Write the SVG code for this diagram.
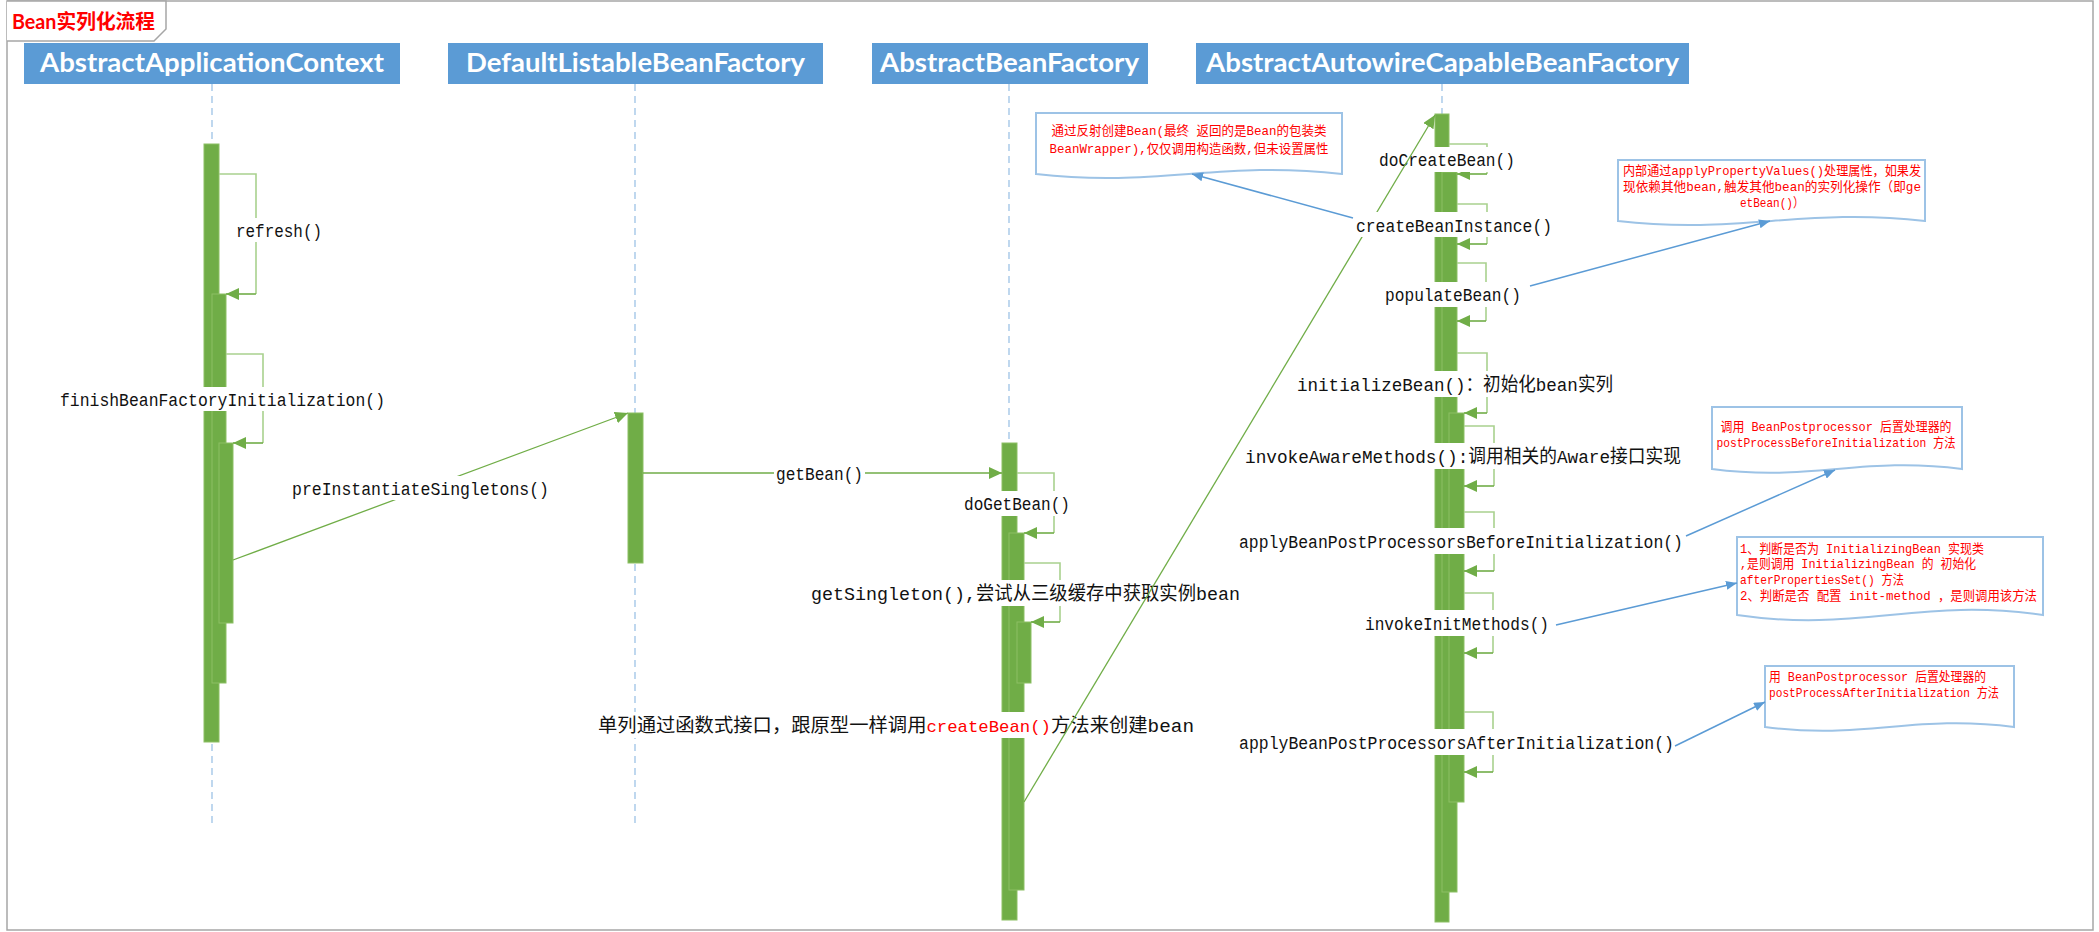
<svg xmlns="http://www.w3.org/2000/svg" width="2099" height="932" viewBox="0 0 2099 932">
<defs>
<style>
.hdr{fill:#5B9BD5}
.hdrt{font-family:Lato,"Liberation Sans",sans-serif;font-weight:bold;font-size:26px;fill:#fff}
.life{stroke:#9DC3E6;stroke-width:1.3;stroke-dasharray:7 5;fill:none}
.bar{fill:#70AD47;stroke:#8CBF64;stroke-width:1}
.self{fill:none;stroke:#A9D18E;stroke-width:1.6}
.ret{fill:none;stroke:#70AD47;stroke-width:1.6;marker-end:url(#ag)}
.msg{fill:none;stroke:#70AD47;stroke-width:1.3;marker-end:url(#ag)}
.lbl{font-family:"Liberation Mono","Noto Sans CJK SC",monospace;font-size:19px;fill:#111}
.red{fill:#FF0000}
.lbg{fill:#fff}
.note{fill:#fff;stroke:#9DC3E6;stroke-width:2}
.nt{font-family:"Liberation Mono","Noto Sans CJK SC",monospace;font-size:13px;fill:#FF0000}
.nc{fill:none;stroke:#5B9BD5;stroke-width:1.5;marker-end:url(#ab)}
</style>
<marker id="ag" viewBox="0 0 13 12" markerWidth="13" markerHeight="12" refX="13" refY="6" orient="auto" markerUnits="userSpaceOnUse"><path d="M0,0 L13,6 L0,12 z" fill="#70AD47"/></marker>
<marker id="ab" viewBox="0 0 11 9" markerWidth="11" markerHeight="9" refX="11" refY="4.5" orient="auto" markerUnits="userSpaceOnUse"><path d="M0,0 L11,4.5 L0,9 z" fill="#5B9BD5"/></marker>
</defs>
<rect x="0" y="0" width="2099" height="932" fill="#fff"/>
<g id="frame">
<rect x="7" y="1" width="2086" height="929" fill="none" stroke="#A6A6A6" stroke-width="1.5"/>
<path d="M7,1 H166 V29 L154,41 H7" fill="#fff" stroke="#A6A6A6" stroke-width="1.5"/>
<text x="12" y="29" textLength="143" lengthAdjust="spacingAndGlyphs" style="font-family:Lato,'Noto Sans CJK SC',sans-serif;font-weight:bold;font-size:20px;fill:#FF0000">Bean实列化流程</text>
</g>

<g id="node-AbstractApplicationContext">
<rect class="hdr" x="24" y="43" width="376" height="41"/>
<text class="hdrt" x="40" y="72" textLength="344" lengthAdjust="spacingAndGlyphs">AbstractApplicationContext</text>
<line class="life" x1="212" y1="84" x2="212" y2="826"/>
<rect class="bar" x="204" y="144" width="15" height="598"/>
<rect class="bar" x="212" y="294" width="14" height="389"/>
<rect class="bar" x="219" y="443" width="14" height="180"/>
</g>
<g id="node-DefaultListableBeanFactory">
<rect class="hdr" x="448" y="43" width="375" height="41"/>
<text class="hdrt" x="466" y="72" textLength="339" lengthAdjust="spacingAndGlyphs">DefaultListableBeanFactory</text>
<line class="life" x1="635" y1="84" x2="635" y2="826"/>
<rect class="bar" x="628" y="413" width="15" height="150"/>
</g>
<g id="node-AbstractBeanFactory">
<rect class="hdr" x="872" y="43" width="276" height="41"/>
<text class="hdrt" x="880" y="72" textLength="259" lengthAdjust="spacingAndGlyphs">AbstractBeanFactory</text>
<line class="life" x1="1009" y1="84" x2="1009" y2="920"/>
<rect class="bar" x="1002" y="443" width="15" height="477"/>
<rect class="bar" x="1009" y="533" width="15" height="357"/>
<rect class="bar" x="1017" y="622" width="14" height="61"/>
</g>
<g id="node-AbstractAutowireCapableBeanFactory">
<rect class="hdr" x="1196" y="43" width="493" height="41"/>
<text class="hdrt" x="1206" y="72" textLength="473" lengthAdjust="spacingAndGlyphs">AbstractAutowireCapableBeanFactory</text>
<line class="life" x1="1442" y1="84" x2="1442" y2="922"/>
<rect class="bar" x="1435" y="114" width="14" height="808"/>
<rect class="bar" x="1442" y="172" width="15" height="720"/>
<rect class="bar" x="1449" y="413" width="15" height="389"/>
</g>

<g id="note-createBeanInstance">
<path class="note" d="M1036,113 H1342 V174 C1220,160 1158,188 1036,174 Z"/>
<text class="nt" x="1189" y="135" text-anchor="middle" textLength="275" lengthAdjust="spacingAndGlyphs">通过反射创建Bean(最终 返回的是Bean的包装类</text>
<text class="nt" x="1189" y="153" text-anchor="middle" textLength="279" lengthAdjust="spacingAndGlyphs">BeanWrapper),仅仅调用构造函数,但未设置属性</text>
</g>
<g id="note-populateBean">
<path class="note" d="M1618,160 H1925 V221 C1803,207 1740,235 1618,221 Z"/>
<text class="nt" x="1772" y="175" text-anchor="middle" textLength="298" lengthAdjust="spacingAndGlyphs">内部通过applyPropertyValues()处理属性，如果发</text>
<text class="nt" x="1772" y="191" text-anchor="middle" textLength="298" lengthAdjust="spacingAndGlyphs">现依赖其他bean,触发其他bean的实列化操作（即ge</text>
<text class="nt" x="1772" y="207" text-anchor="middle" textLength="64" lengthAdjust="spacingAndGlyphs">etBean()）</text>
</g>
<g id="note-before">
<path class="note" d="M1712,407 H1962 V469 C1862,456 1812,482 1712,469 Z"/>
<text class="nt" x="1836" y="431" text-anchor="middle" textLength="231" lengthAdjust="spacingAndGlyphs">调用 BeanPostprocessor 后置处理器的</text>
<text class="nt" x="1836" y="447" text-anchor="middle" textLength="239" lengthAdjust="spacingAndGlyphs">postProcessBeforeInitialization 方法</text>
</g>
<g id="note-invokeInit">
<path class="note" d="M1737,537 H2043 V615 C1920,597 1860,633 1737,615 Z"/>
<text class="nt" x="1740" y="553" textLength="244" lengthAdjust="spacingAndGlyphs">1、判断是否为 InitializingBean 实现类</text>
<text class="nt" x="1740" y="568" textLength="236" lengthAdjust="spacingAndGlyphs">,是则调用 InitializingBean 的 初始化</text>
<text class="nt" x="1740" y="584" textLength="164" lengthAdjust="spacingAndGlyphs">afterPropertiesSet() 方法</text>
<text class="nt" x="1740" y="600" textLength="297" lengthAdjust="spacingAndGlyphs">2、判断是否 配置 init-method ，是则调用该方法</text>
</g>
<g id="note-after">
<path class="note" d="M1765,666 H2014 V727 C1914,714 1865,740 1765,727 Z"/>
<text class="nt" x="1769" y="681" textLength="217" lengthAdjust="spacingAndGlyphs">用 BeanPostprocessor 后置处理器的</text>
<text class="nt" x="1769" y="697" textLength="230" lengthAdjust="spacingAndGlyphs">postProcessAfterInitialization 方法</text>
</g>

<g id="connectors">
<g id="m-refresh">
<path class="self" d="M219,174 H256 V294"/>
<line class="ret" x1="256" y1="294" x2="226" y2="294"/>
<rect class="lbg" x="234" y="218" width="90" height="24"/>
<text class="lbl" x="236" y="237" textLength="86" lengthAdjust="spacingAndGlyphs">refresh()</text>
</g>
<g id="m-finish">
<path class="self" d="M226,354 H263 V443"/>
<line class="ret" x1="263" y1="443" x2="233" y2="443"/>
<rect class="lbg" x="58" y="387" width="329" height="24"/>
<text class="lbl" x="60" y="406" textLength="325" lengthAdjust="spacingAndGlyphs">finishBeanFactoryInitialization()</text>
</g>
<g id="m-preInstantiate">
<line class="msg" x1="233" y1="560" x2="628" y2="413"/>
<rect class="lbg" x="290" y="476" width="261" height="24"/>
<text class="lbl" x="292" y="495" textLength="257" lengthAdjust="spacingAndGlyphs">preInstantiateSingletons()</text>
</g>
<g id="m-getBean">
<line class="msg" x1="643" y1="473" x2="1002" y2="473"/>
<rect class="lbg" x="774" y="461" width="91" height="24"/>
<text class="lbl" x="776" y="480" textLength="87" lengthAdjust="spacingAndGlyphs">getBean()</text>
</g>
<g id="m-doGetBean">
<path class="self" d="M1017,473 H1054 V533"/>
<line class="ret" x1="1054" y1="533" x2="1024" y2="533"/>
<rect class="lbg" x="962" y="491" width="110" height="25"/>
<text class="lbl" x="964" y="510" textLength="106" lengthAdjust="spacingAndGlyphs">doGetBean()</text>
</g>
<g id="m-getSingleton">
<path class="self" d="M1024,563 H1060 V622"/>
<line class="ret" x1="1060" y1="622" x2="1031" y2="622"/>
<rect class="lbg" x="809" y="580" width="433" height="26"/>
<text class="lbl" x="811" y="600" textLength="429" lengthAdjust="spacingAndGlyphs">getSingleton(),尝试从三级缓存中获取实例bean</text>
</g>
<g id="m-doCreateBean">
<path class="self" d="M1449,144 H1487 V174"/>
<line class="ret" x1="1487" y1="174" x2="1457" y2="174"/>
<rect class="lbg" x="1377" y="147" width="140" height="25"/>
<text class="lbl" x="1379" y="166" textLength="136" lengthAdjust="spacingAndGlyphs">doCreateBean()</text>
</g>
<g id="m-createBean">
<rect class="lbg" x="596" y="712" width="600" height="26"/>
<text class="lbl" x="598" y="732" textLength="596" lengthAdjust="spacingAndGlyphs">单列通过函数式接口，跟原型一样调用<tspan class="red" style="font-size:17px">createBean()</tspan>方法来创建bean</text>
<line class="msg" x1="1024" y1="802" x2="1435" y2="115"/>
</g>
<g id="m-createBeanInstance">
<path class="self" d="M1457,204 H1487 V244"/>
<line class="ret" x1="1487" y1="244" x2="1457" y2="244"/>
<rect class="lbg" x="1354" y="212" width="200" height="25"/>
<text class="lbl" x="1356" y="232" textLength="196" lengthAdjust="spacingAndGlyphs">createBeanInstance()</text>
</g>
<g id="m-populateBean">
<path class="self" d="M1457,263 H1486 V321"/>
<line class="ret" x1="1486" y1="321" x2="1457" y2="321"/>
<rect class="lbg" x="1383" y="282" width="140" height="25"/>
<text class="lbl" x="1385" y="301" textLength="136" lengthAdjust="spacingAndGlyphs">populateBean()</text>
</g>
<g id="m-initializeBean">
<path class="self" d="M1457,353 H1487 V413"/>
<line class="ret" x1="1487" y1="413" x2="1464" y2="413"/>
<rect class="lbg" x="1295" y="371" width="320" height="26"/>
<text class="lbl" x="1297" y="391" textLength="316" lengthAdjust="spacingAndGlyphs">initializeBean()：初始化bean实列</text>
</g>
<g id="m-invokeAwareMethods">
<path class="self" d="M1464,426 H1494 V486"/>
<line class="ret" x1="1494" y1="486" x2="1464" y2="486"/>
<rect class="lbg" x="1243" y="443" width="440" height="26"/>
<text class="lbl" x="1245" y="463" textLength="436" lengthAdjust="spacingAndGlyphs">invokeAwareMethods():调用相关的Aware接口实现</text>
</g>
<g id="m-applyBefore">
<path class="self" d="M1464,512 H1494 V571"/>
<line class="ret" x1="1494" y1="571" x2="1464" y2="571"/>
<rect class="lbg" x="1237" y="528" width="448" height="26"/>
<text class="lbl" x="1239" y="548" textLength="444" lengthAdjust="spacingAndGlyphs">applyBeanPostProcessorsBeforeInitialization()</text>
</g>
<g id="m-invokeInitMethods">
<path class="self" d="M1464,593 H1493 V653"/>
<line class="ret" x1="1493" y1="653" x2="1464" y2="653"/>
<rect class="lbg" x="1363" y="610" width="188" height="26"/>
<text class="lbl" x="1365" y="630" textLength="184" lengthAdjust="spacingAndGlyphs">invokeInitMethods()</text>
</g>
<g id="m-applyAfter">
<path class="self" d="M1464,712 H1493 V772"/>
<line class="ret" x1="1493" y1="772" x2="1464" y2="772"/>
<rect class="lbg" x="1237" y="729" width="439" height="26"/>
<text class="lbl" x="1239" y="749" textLength="435" lengthAdjust="spacingAndGlyphs">applyBeanPostProcessorsAfterInitialization()</text>
</g>
<line class="nc" x1="1353" y1="218" x2="1192" y2="174"/>
<line class="nc" x1="1530" y1="286" x2="1770" y2="221"/>
<line class="nc" x1="1686" y1="536" x2="1835" y2="470"/>
<line class="nc" x1="1556" y1="625" x2="1737" y2="583"/>
<line class="nc" x1="1675" y1="746" x2="1765" y2="702"/>
</g>
</svg>
